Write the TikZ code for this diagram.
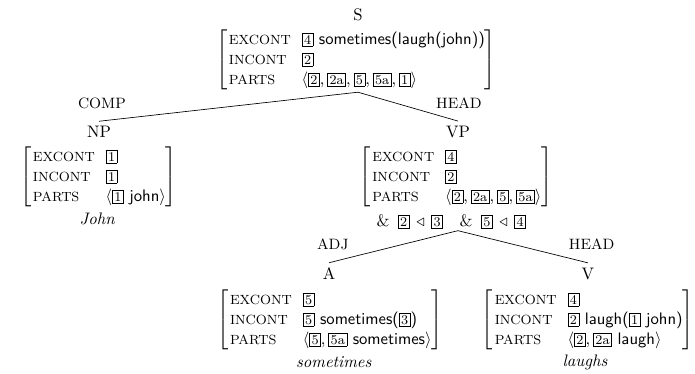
\documentclass[tikz,border=0pt]{standalone}

% boxed tag and feature matrix
\newcommand{\tagbox}[1]{{\setlength{\fboxsep}{1pt}\fbox{\footnotesize #1}}}
\newcommand{\attr}[1]{{\footnotesize #1}}
\newcommand{\featmat}[3]{$\left[\begin{tabular}{@{\hspace{1pt}}l@{\hspace{6.5pt}}l@{}}
  \attr{EXCONT} & #1\\
  \attr{INCONT} & #2\\
  \attr{PARTS}  & #3
\end{tabular}\right]$}

\begin{document}
\begin{tikzpicture}[
  cat/.style={inner sep=3pt},
  fs/.style={inner sep=1pt},
  role/.style={font=\small},
  word/.style={font=\itshape, inner sep=1pt}]
	\useasboundingbox (0,0) rectangle (14.66,7.87);

	% --- S ---
	\node[cat] (s) at (7.55,7.55) {S};
	\node[fs] (sfs) at (7.51,6.60) {\featmat{\tagbox{4} \textsf{sometimes(laugh(john))}}{\tagbox{2}}
		{$\langle\tagbox{2}, \tagbox{2a}, \tagbox{5}, \tagbox{5a}, \tagbox{1}\rangle$}};

	% --- NP ---
	\node[role] (comp) at (2.15,5.69) {COMP};
	\node[cat] (np) at (2.09,5.08) {NP};
	\node[fs] (npfs) at (2.08,4.13) {\featmat{\tagbox{1}}{\tagbox{1}}
		{$\langle$\tagbox{1} \textsf{john}$\rangle$}};
	\node[word] (john) at (2.05,3.25) {John};

	% --- VP ---
	\node[role] (head1) at (9.68,5.69) {HEAD};
	\node[cat] (vp) at (9.66,5.08) {VP};
	\node[fs] (vpfs) at (9.62,4.13) {\featmat{\tagbox{4}}{\tagbox{2}}
		{$\langle\tagbox{2}, \tagbox{2a}, \tagbox{5}, \tagbox{5a}\rangle$}};
	\node[fs] (cons) at (9.52,3.20) {\&\hspace{5pt}\tagbox{2}\hspace{4pt}$\triangleleft$\hspace{4pt}\tagbox{3}\hspace{10pt}%
		\&\hspace{5pt}\tagbox{5}\hspace{4pt}$\triangleleft$\hspace{4pt}\tagbox{4}};

	% --- A ---
	\node[role] (adj) at (7.02,2.72) {ADJ};
	\node[cat] (a) at (6.94,2.09) {A};
	\node[fs] (afs) at (6.96,1.12) {\featmat{\tagbox{5}}{\tagbox{5} \textsf{sometimes(}\tagbox{3}\textsf{)}}
		{$\langle\tagbox{5}, \tagbox{5a}$ \textsf{sometimes}$\rangle$}};
	\node[word] (sometimes) at (7.04,0.23) {sometimes};

	% --- V ---
	\node[role] (head2) at (12.48,2.72) {HEAD};
	\node[cat] (v) at (12.40,2.09) {V};
	\node[fs] (vfs) at (12.40,1.12) {\featmat{\tagbox{4}}{\tagbox{2} \textsf{laugh(}\tagbox{1} \textsf{john)}}
		{$\langle\tagbox{2}, \tagbox{2a}$ \textsf{laugh}$\rangle$}};
	\node[word] (laughs) at (12.34,0.23) {laughs};

	% --- branches ---
	\draw (sfs.south -| s) -- (np.north);
	\draw (sfs.south -| s) -- (vp.north);
	\draw (cons.south -| vp) -- (a.north);
	\draw (cons.south -| vp) -- (v.north);
\end{tikzpicture}
\end{document}
